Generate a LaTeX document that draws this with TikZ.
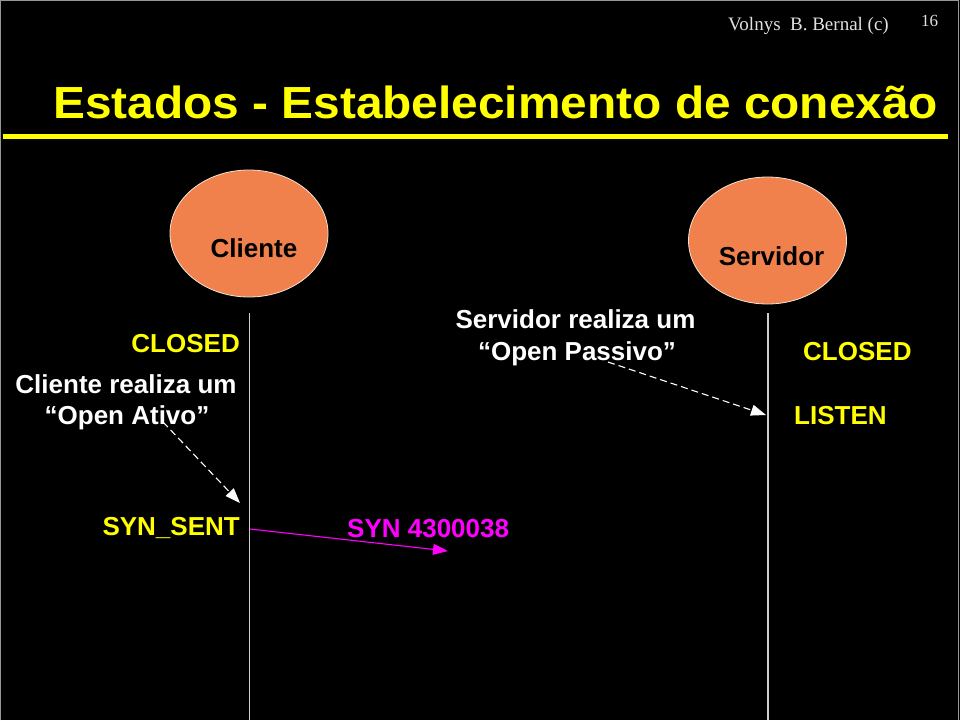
\documentclass[tikz,border=0pt]{standalone}
\usepackage{graphicx}
\usepackage{fontspec}
\setmainfont{Liberation Sans}
\newfontfamily\timesf{Liberation Serif}
\usetikzlibrary{arrows.meta,shapes.geometric}
\definecolor{ttlyellow}{RGB}{255,255,0}
\definecolor{ellfill}{RGB}{240,128,76}
\definecolor{ellline}{RGB}{245,228,210}
\definecolor{lifegray}{RGB}{205,205,205}
\definecolor{synmag}{RGB}{255,0,255}
\definecolor{framegray}{RGB}{150,150,150}
\definecolor{creditgray}{RGB}{225,225,225}
\begin{document}
\begin{tikzpicture}[x=1pt,y=-1pt,
  lbl/.style={inner sep=0pt, font=\fontsize{26}{31}\selectfont\bfseries},
  actor/.style={ellipse, draw=ellline, line width=0.8pt, fill=ellfill, inner sep=0pt,
                minimum width=158pt, minimum height=127pt},
  lifeline/.style={draw=lifegray, line width=1.5pt},
  dasharr/.style={draw=white, line width=1.1pt, dash pattern=on 7pt off 4pt,
                  -{Triangle[length=15pt,width=11pt]}},
  msgarr/.style={draw=synmag, line width=1.1pt, -{Triangle[length=15pt,width=11pt]}}]
\fill[black] (0,0) rectangle (960,720);
\useasboundingbox (0,0) rectangle (960,720);
\draw[framegray, line width=1pt] (0.5,720) -- (0.5,0.5) -- (958.5,0.5) -- (958.5,720);

% header
\node[anchor=base east, inner sep=0pt, text=creditgray,
      font=\timesf\fontsize{19}{19}\selectfont] (credit) at (889,30) {Volnys\ \ B. Bernal (c)};
\node[anchor=base west, inner sep=0pt, text=creditgray,
      font=\timesf\fontsize{17}{17}\selectfont] (pagenum) at (921,26) {16};
\node[anchor=base west, inner sep=0pt, text=ttlyellow] (title) at (53,118)
  {\resizebox{885pt}{\height}{\fontsize{45}{45}\selectfont\bfseries Estados - Estabelecimento de conexão}};
\draw[ttlyellow, line width=5pt] (3,136) -- (948,136);

% actors
\node[actor] (cli) at (249,233.5) {};
\node[lbl, text=black, anchor=base] (cliName) at (254,257) {Cliente};
\node[actor] (srv) at (767.5,240.5) {};
\node[lbl, text=black, anchor=base] (srvName) at (771.5,265) {Servidor};

% lifelines
\coordinate (cliTop) at (249.5,313);
\coordinate (cliBot) at (249.5,720);
\coordinate (srvTop) at (768,313);
\coordinate (srvBot) at (768,720);
\draw[lifeline] (cliTop) -- (cliBot);
\draw[lifeline] (srvTop) -- (srvBot);

% client side texts
\node[lbl, text=ttlyellow, anchor=base east] (cliClosed) at (240,352.5) {CLOSED};
\node[lbl, text=white, anchor=base] (cliAct1) at (126,393) {Cliente realiza um};
\node[lbl, text=white, anchor=base] (cliAct2) at (127,424) {“Open Ativo”};
\node[lbl, text=ttlyellow, anchor=base east] (cliSyn) at (240,535) {SYN\_SENT};
\node[lbl, text=synmag, anchor=base west] (synLbl) at (347,537) {SYN 4300038};

% server side texts
\node[lbl, text=white, anchor=base] (srvAct1) at (575.5,328) {Servidor realiza um};
\node[lbl, text=white, anchor=base] (srvAct2) at (577,360) {“Open Passivo”};
\node[lbl, text=ttlyellow, anchor=base west] (srvClosed) at (803,360) {CLOSED};
\node[lbl, text=ttlyellow, anchor=base west] (srvListen) at (794,424) {LISTEN};

% connectors
\coordinate (atvFrom) at (163,422);
\coordinate (atvTo) at (240,503);
\draw[dasharr] (atvFrom) -- (atvTo);
\coordinate (psvFrom) at (608,362);
\coordinate (psvTo) at (766,415);
\draw[dasharr] (psvFrom) -- (psvTo);
\coordinate (synFrom) at (250,529);
\coordinate (synTo) at (448,551);
\draw[msgarr] (synFrom) -- (synTo);
\end{tikzpicture}
\end{document}
